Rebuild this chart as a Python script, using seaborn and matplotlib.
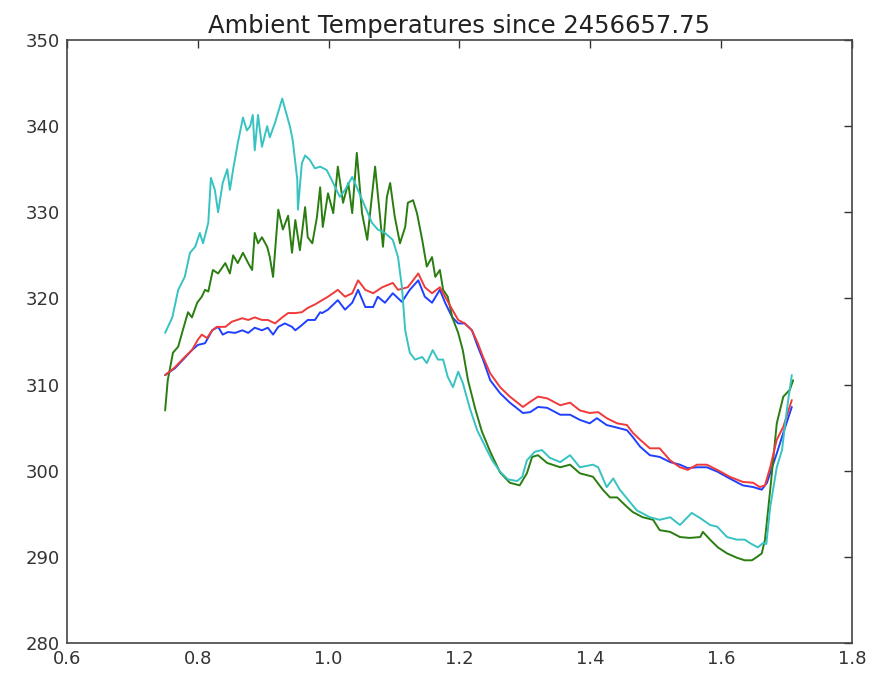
import matplotlib
matplotlib.use("Agg")
import matplotlib.pyplot as plt
import pandas as pd
import seaborn as sns

# Sensor readings: time offset (days) and temperature (K)
blue_t = [0.750, 0.765, 0.780, 0.791, 0.800, 0.811, 0.822, 0.831, 0.838, 0.846,
          0.857, 0.868, 0.877, 0.887, 0.898, 0.907, 0.915, 0.923, 0.933, 0.944,
          0.949, 0.959, 0.968, 0.979, 0.987, 0.990, 0.999, 1.014, 1.025, 1.036,
          1.045, 1.056, 1.068, 1.075, 1.086, 1.098, 1.112, 1.124, 1.137, 1.147,
          1.158, 1.170, 1.178, 1.189, 1.198, 1.208, 1.219, 1.228, 1.236, 1.247,
          1.262, 1.277, 1.297, 1.308, 1.320, 1.334, 1.354, 1.369, 1.384, 1.399,
          1.410, 1.425, 1.441, 1.456, 1.465, 1.476, 1.491, 1.506, 1.522, 1.537,
          1.549, 1.563, 1.578, 1.594, 1.613, 1.633, 1.649, 1.662, 1.670, 1.685,
          1.695, 1.708]
blue_temp = [311.1, 311.9, 313.1, 314.0, 314.6, 314.8, 316.3, 316.7, 315.8, 316.1,
             316.0, 316.3, 316.0, 316.6, 316.3, 316.6, 315.8, 316.7, 317.1, 316.7,
             316.3, 316.9, 317.5, 317.5, 318.4, 318.3, 318.7, 319.8, 318.7, 319.5,
             321.0, 319.0, 319.0, 320.2, 319.5, 320.6, 319.6, 321.0, 322.1, 320.2,
             319.5, 321.0, 319.5, 317.8, 317.1, 317.1, 316.3, 314.4, 312.9, 310.5,
             309.0, 307.9, 306.7, 306.8, 307.4, 307.3, 306.5, 306.5, 305.9, 305.5,
             306.1, 305.3, 305.0, 304.7, 303.9, 302.8, 301.8, 301.6, 301.0, 300.7,
             300.3, 300.4, 300.4, 299.9, 299.1, 298.3, 298.1, 297.8, 298.6, 302.0,
             304.4, 307.4]

green_t = [0.750, 0.754, 0.762, 0.770, 0.777, 0.785, 0.791, 0.799, 0.806, 0.811,
           0.816, 0.823, 0.831, 0.842, 0.849, 0.854, 0.861, 0.869, 0.877, 0.883,
           0.887, 0.892, 0.898, 0.906, 0.910, 0.915, 0.923, 0.930, 0.938, 0.944,
           0.949, 0.956, 0.964, 0.968, 0.975, 0.982, 0.987, 0.991, 0.999, 1.007,
           1.014, 1.022, 1.030, 1.036, 1.043, 1.051, 1.059, 1.066, 1.071, 1.078,
           1.083, 1.089, 1.094, 1.101, 1.109, 1.117, 1.121, 1.129, 1.135, 1.143,
           1.150, 1.158, 1.163, 1.170, 1.175, 1.182, 1.189, 1.198, 1.205, 1.213,
           1.224, 1.234, 1.247, 1.262, 1.277, 1.292, 1.303, 1.311, 1.320, 1.334,
           1.354, 1.369, 1.384, 1.404, 1.419, 1.430, 1.441, 1.456, 1.465, 1.480,
           1.496, 1.506, 1.522, 1.537, 1.552, 1.568, 1.572, 1.583, 1.595, 1.609,
           1.624, 1.636, 1.647, 1.655, 1.662, 1.667, 1.675, 1.685, 1.695, 1.705,
           1.710]
green_temp = [307.0, 310.5, 313.7, 314.4, 316.3, 318.4, 317.8, 319.5, 320.2, 321.0,
              320.8, 323.3, 322.9, 324.1, 322.9, 325.0, 324.1, 325.3, 324.1, 323.3,
              327.6, 326.4, 327.1, 326.0, 324.8, 322.5, 330.3, 328.0, 329.6, 325.3,
              329.1, 325.6, 330.6, 327.1, 326.4, 329.4, 332.9, 328.3, 332.2, 329.9,
              335.3, 331.1, 333.4, 329.9, 336.9, 329.9, 326.8, 331.8, 335.3, 329.9,
              326.0, 331.8, 333.4, 329.5, 326.4, 328.3, 331.1, 331.4, 329.9, 326.8,
              323.7, 324.8, 322.5, 323.3, 321.0, 320.2, 317.8, 316.0, 314.0, 310.5,
              307.2, 304.6, 302.2, 299.8, 298.6, 298.3, 299.7, 301.6, 301.8, 300.9,
              300.4, 300.7, 299.7, 299.3, 297.8, 296.9, 296.9, 295.8, 295.2, 294.6,
              294.3, 293.1, 292.9, 292.3, 292.2, 292.3, 292.9, 292.0, 291.1, 290.4,
              289.9, 289.6, 289.6, 290.0, 290.4, 292.0, 297.8, 305.5, 308.6, 309.4,
              310.5]

red_t = [0.750, 0.765, 0.780, 0.791, 0.800, 0.806, 0.814, 0.822, 0.829, 0.842,
         0.852, 0.868, 0.877, 0.887, 0.898, 0.907, 0.918, 0.929, 0.938, 0.949,
         0.959, 0.968, 0.979, 0.990, 0.999, 1.014, 1.025, 1.036, 1.045, 1.056,
         1.068, 1.082, 1.098, 1.106, 1.121, 1.137, 1.147, 1.158, 1.170, 1.178,
         1.189, 1.198, 1.208, 1.219, 1.228, 1.236, 1.247, 1.262, 1.277, 1.297,
         1.308, 1.320, 1.334, 1.354, 1.369, 1.384, 1.399, 1.412, 1.425, 1.441,
         1.456, 1.465, 1.476, 1.491, 1.506, 1.522, 1.537, 1.549, 1.563, 1.578,
         1.594, 1.613, 1.633, 1.649, 1.659, 1.667, 1.675, 1.685, 1.695, 1.708]
red_temp = [311.1, 312.0, 313.2, 314.0, 315.2, 315.8, 315.4, 316.3, 316.7, 316.7,
            317.3, 317.7, 317.5, 317.8, 317.5, 317.5, 317.1, 317.8, 318.3, 318.3,
            318.4, 318.9, 319.3, 319.8, 320.2, 321.0, 320.2, 320.6, 322.1, 321.0,
            320.6, 321.3, 321.8, 321.0, 321.3, 322.9, 321.3, 320.6, 321.3, 320.2,
            318.7, 317.5, 317.1, 316.3, 314.8, 313.2, 311.3, 309.7, 308.6, 307.4,
            308.0, 308.6, 308.4, 307.6, 307.9, 307.0, 306.7, 306.8, 306.1, 305.5,
            305.3, 304.4, 303.6, 302.6, 302.6, 301.2, 300.4, 300.1, 300.7, 300.7,
            300.1, 299.3, 298.7, 298.6, 298.1, 298.3, 300.4, 303.6, 305.1, 308.2]

cyan_t = [0.750, 0.761, 0.770, 0.780, 0.788, 0.796, 0.803, 0.808, 0.816, 0.820,
          0.826, 0.831, 0.838, 0.845, 0.849, 0.854, 0.861, 0.869, 0.875, 0.880,
          0.884, 0.887, 0.892, 0.898, 0.906, 0.910, 0.918, 0.929, 0.941, 0.945,
          0.952, 0.953, 0.959, 0.964, 0.971, 0.979, 0.987, 0.997, 1.005, 1.017,
          1.025, 1.036, 1.043, 1.056, 1.066, 1.075, 1.086, 1.098, 1.106, 1.112,
          1.117, 1.124, 1.132, 1.143, 1.150, 1.159, 1.167, 1.175, 1.182, 1.190,
          1.198, 1.205, 1.216, 1.227, 1.242, 1.250, 1.262, 1.274, 1.288, 1.296,
          1.303, 1.315, 1.326, 1.338, 1.354, 1.369, 1.384, 1.404, 1.412, 1.425,
          1.435, 1.445, 1.458, 1.471, 1.491, 1.506, 1.522, 1.537, 1.555, 1.568,
          1.583, 1.594, 1.609, 1.624, 1.636, 1.644, 1.656, 1.664, 1.669, 1.675,
          1.685, 1.693, 1.701, 1.708]
cyan_temp = [316.0, 317.8, 321.0, 322.5, 325.3, 326.0, 327.6, 326.4, 328.8, 334.0,
             332.6, 330.0, 333.4, 335.0, 332.6, 335.0, 338.0, 341.0, 339.5, 340.0,
             341.3, 337.2, 341.3, 337.6, 340.0, 338.7, 340.4, 343.2, 339.9, 338.4,
             333.8, 330.3, 335.7, 336.6, 336.1, 335.1, 335.3, 334.9, 333.7, 331.8,
             332.6, 334.1, 332.9, 330.6, 328.8, 328.0, 327.6, 326.8, 324.8, 321.3,
             316.3, 313.7, 312.9, 313.2, 312.5, 314.0, 312.9, 312.9, 310.9, 309.7,
             311.5, 310.2, 307.2, 304.7, 302.4, 301.2, 299.9, 299.0, 298.8, 299.3,
             301.2, 302.2, 302.4, 301.5, 301.0, 301.8, 300.4, 300.7, 300.4, 298.1,
             299.1, 297.8, 296.6, 295.4, 294.6, 294.3, 294.6, 293.7, 295.1, 294.5,
             293.7, 293.5, 292.3, 292.0, 292.0, 291.6, 291.1, 291.6, 291.5, 295.8,
             300.4, 302.4, 307.4, 311.1]

series = {"b": (blue_t, blue_temp), "g": (green_t, green_temp),
          "r": (red_t, red_temp), "c": (cyan_t, cyan_temp)}
palette = {"b": "#2040ff", "g": "#2a7d10", "r": "#f03a3a", "c": "#38c2c2"}

df = pd.concat(
    [pd.DataFrame({"t": t, "temp": temp, "sensor": name})
     for name, (t, temp) in series.items()],
    ignore_index=True,
)

sns.set_style("white")
plt.rcParams["font.family"] = ["DejaVu Sans"]

fig = plt.figure(figsize=(8.75, 6.77), dpi=100)
ax = fig.add_axes([67 / 875, 1 - 643 / 677, 785 / 875, 603 / 677])

sns.lineplot(data=df, x="t", y="temp", hue="sensor", palette=palette,
             hue_order=["b", "g", "r", "c"], estimator=None, sort=False,
             linewidth=1.4, legend=False, ax=ax)

ax.set_xlim(0.6, 1.8)
ax.set_ylim(280, 350)
ax.set_xticks([0.6, 0.8, 1.0, 1.2, 1.4, 1.6, 1.8])
ax.set_yticks([280, 290, 300, 310, 320, 330, 340, 350])
ax.set_xlabel("")
ax.set_ylabel("")
ax.set_title("Ambient Temperatures since 2456657.75", fontsize=17.5, pad=5,
             color="#222222")
ax.tick_params(direction="in", length=6, width=1, top=True, right=True,
               labelsize=13, colors="#333333", pad=5)
for side in ax.spines.values():
    side.set_color("#444444")
    side.set_linewidth(1.2)

fig.savefig("out.png", dpi=100, facecolor="white")
